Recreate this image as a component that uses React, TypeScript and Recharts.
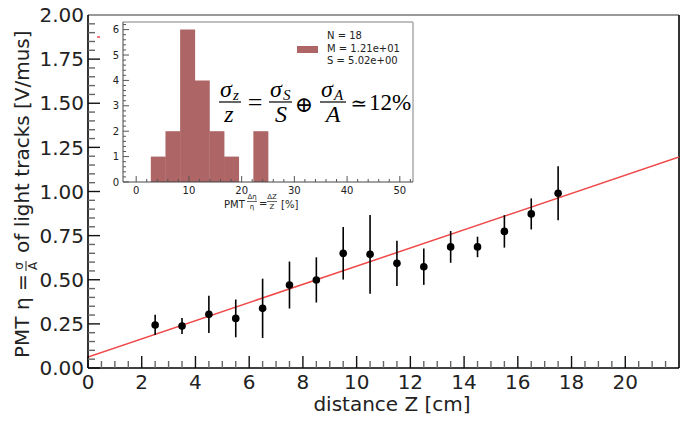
import React from 'react';
import {
  ComposedChart,
  Scatter,
  Line,
  Bar,
  XAxis,
  YAxis,
  ErrorBar,
  ReferenceLine,
} from 'recharts';

// main plot: eta resolution vs distance
const zValues = [2.5, 3.5, 4.5, 5.5, 6.5, 7.5, 8.5, 9.5, 10.5, 11.5, 12.5, 13.5, 14.5, 15.5, 16.5, 17.5];
const etaValues = [0.244, 0.238, 0.304, 0.281, 0.338, 0.47, 0.499, 0.65, 0.644, 0.593, 0.574, 0.686, 0.686, 0.774, 0.873, 0.99];
const etaErrors = [0.057, 0.045, 0.105, 0.107, 0.168, 0.133, 0.128, 0.149, 0.223, 0.128, 0.103, 0.09, 0.058, 0.092, 0.088, 0.153];

// linear fit, evaluated at the axis ends
const fitZ = [0, 22];
const fitEta = [0.062, 1.195];

// inset histogram, 18 bins over [0, 50]
const histRange = [0, 50];
const histCounts = [0, 1, 2, 6, 4, 2, 1, 0, 2, 0, 0, 0, 0, 0, 0, 0, 0, 0];
const legendLines = ['N = 18', 'M = 1.21e+01', 'S = 5.02e+00'];

const xMajorTicks = [0, 2, 4, 6, 8, 10, 12, 14, 16, 18, 20];
const yMajorTicks = [0, 0.25, 0.5, 0.75, 1.0, 1.25, 1.5, 1.75, 2.0];
const insetXMajorTicks = [0, 10, 20, 30, 40, 50];
const insetYMajorTicks = [0, 1, 2, 3, 4, 5, 6];

const points = zValues.map((z, i) => ({ z, eta: etaValues[i], err: etaErrors[i] }));
const fitData = fitZ.map((z, i) => ({ z, eta: fitEta[i] }));
const binWidth = (histRange[1] - histRange[0]) / histCounts.length;
const histData = histCounts.map((count, i) => ({ center: histRange[0] + (i + 0.5) * binWidth, count }));

const steps = (from: number, to: number, step: number) => {
  const out: number[] = [];
  for (let i = 0; from + i * step <= to + 1e-9; i++) out.push(Math.round((from + i * step) * 1000) / 1000);
  return out;
};
const isIn = (v: number, list: number[]) => list.some((t) => Math.abs(t - v) < 1e-6);

const FONT = 'DejaVu Sans, sans-serif';
const MATH = 'Liberation Serif, DejaVu Serif, serif';
const BAR_COLOR = '#ad6565';

const MAIN = { left: 88, right: 679, top: 15, bottom: 368 };
const INSET = { x: 100, y: 10, w: 320, h: 205, left: 123, right: 413, top: 22, bottom: 182 };

const MainXTick = (props: any) => {
  const { x, payload } = props;
  const major = isIn(payload.value, xMajorTicks);
  return (
    <g>
      <line x1={x} x2={x} y1={MAIN.bottom} y2={MAIN.bottom - (major ? 12 : 7)} stroke={major ? '#111' : '#666'} strokeWidth={1.4} />
      {major && (
        <text x={x} y={MAIN.bottom + 21} textAnchor="middle" fontSize={20} fontFamily={FONT} fill="#222">
          {payload.value}
        </text>
      )}
    </g>
  );
};

const MainYTick = (props: any) => {
  const { y, payload } = props;
  const major = isIn(payload.value, yMajorTicks);
  const edge = payload.value >= 2;
  return (
    <g>
      {!edge && (
        <line x1={MAIN.left} x2={MAIN.left + (major ? 12 : 7)} y1={y} y2={y} stroke={major ? '#111' : '#666'} strokeWidth={1.4} />
      )}
      {major && (
        <text x={MAIN.left - 4} y={y} dy="0.36em" textAnchor="end" fontSize={20} fontFamily={FONT} fill="#222">
          {payload.value.toFixed(2)}
        </text>
      )}
    </g>
  );
};

const InsetXTick = (props: any) => {
  const { x, payload } = props;
  const major = isIn(payload.value, insetXMajorTicks);
  const ay = INSET.bottom - INSET.y;
  return (
    <g>
      <line x1={x} x2={x} y1={ay} y2={ay - (major ? 6 : 3)} stroke="#555" strokeWidth={1} />
      {major && (
        <text x={x} y={ay + 12} textAnchor="middle" fontSize={10} fontFamily={FONT} fill="#222">
          {payload.value}
        </text>
      )}
    </g>
  );
};

const InsetYTick = (props: any) => {
  const { y, payload } = props;
  const major = isIn(payload.value, insetYMajorTicks);
  const ax = INSET.left - INSET.x;
  return (
    <g>
      <line x1={ax} x2={ax + (major ? 6 : 3)} y1={y} y2={y} stroke="#555" strokeWidth={1} />
      {major && (
        <text x={ax - 4} y={y} dy="0.36em" textAnchor="end" fontSize={10} fontFamily={FONT} fill="#222">
          {payload.value}
        </text>
      )}
    </g>
  );
};

function Overlay() {
  return (
    <svg width={685} height={422} style={{ position: 'absolute', left: 0, top: 0, pointerEvents: 'none' }}>
      {/* y label, rotated */}
      <g transform="translate(29, 0) rotate(-90)" fontFamily={FONT} fill="#222">
        <text x={-358} y={0} fontSize={20}>PMT η =</text>
        <text x={-266} y={-6} fontSize={12} textAnchor="middle">σ</text>
        <line x1={-271} x2={-261} y1={-3} y2={-3} stroke="#222" strokeWidth={1} />
        <text x={-266} y={8} fontSize={12} textAnchor="middle">A</text>
        <text x={-253} y={0} fontSize={20}>of light tracks [V/mus]</text>
      </g>
      <text x={392} y={411} textAnchor="middle" fontSize={20} fontFamily={FONT} fill="#222">
        distance Z [cm]
      </text>

      {/* empty fit legend entry */}
      <line x1={97} x2={100} y1={37} y2={37} stroke="#f04848" strokeWidth={1.5} />

      {/* inset legend */}
      <rect x={297} y={46} width={21} height={7} fill={BAR_COLOR} />
      {legendLines.map((t, i) => (
        <text key={t} x={327} y={39 + i * 12.5} fontSize={10} fontFamily={FONT} fill="#222">
          {t}
        </text>
      ))}

      {/* inset x label */}
      <g fontFamily={FONT} fill="#222">
        <text x={224} y={208} fontSize={10}>PMT</text>
        <text x={252} y={199} fontSize={7} textAnchor="middle">Δη</text>
        <line x1={247} x2={257} y1={201.5} y2={201.5} stroke="#222" strokeWidth={0.7} />
        <text x={252} y={209} fontSize={7} textAnchor="middle">η</text>
        <text x={259} y={207} fontSize={10}>=</text>
        <text x={272} y={199} fontSize={7} textAnchor="middle">ΔZ</text>
        <line x1={267} x2={277} y1={201.5} y2={201.5} stroke="#222" strokeWidth={0.7} />
        <text x={272} y={209} fontSize={7} textAnchor="middle">Z</text>
        <text x={281} y={208} fontSize={10}>[%]</text>
      </g>

      {/* resolution formula */}
      <g fontFamily={MATH} fill="#000">
        <text x={220} y={97} fontSize={24} fontStyle="italic">σ</text>
        <text x={233} y={100} fontSize={15} fontStyle="italic">z</text>
        <line x1={219} x2={241} y1={102} y2={102} stroke="#000" strokeWidth={1.2} />
        <text x={229} y={122} fontSize={24} fontStyle="italic" textAnchor="middle">z</text>

        <text x={255} y={111} fontSize={26} textAnchor="middle">=</text>

        <text x={270} y={97} fontSize={24} fontStyle="italic">σ</text>
        <text x={283} y={100} fontSize={15} fontStyle="italic">S</text>
        <line x1={269} x2={292} y1={102} y2={102} stroke="#000" strokeWidth={1.2} />
        <text x={281} y={122} fontSize={24} fontStyle="italic" textAnchor="middle">S</text>

        <text x={304} y={112} fontSize={22} textAnchor="middle">⊕</text>

        <text x={321} y={97} fontSize={24} fontStyle="italic">σ</text>
        <text x={334} y={100} fontSize={15} fontStyle="italic">A</text>
        <line x1={320} x2={346} y1={102} y2={102} stroke="#000" strokeWidth={1.2} />
        <text x={333} y={122} fontSize={24} fontStyle="italic" textAnchor="middle">A</text>

        <text x={359} y={110} fontSize={20} textAnchor="middle">≃</text>
        <text x={369} y={110} fontSize={23}>12%</text>
      </g>
    </svg>
  );
}

export default function App() {
  return (
    <div style={{ position: 'absolute', left: 0, top: 0, width: 685, height: 422, background: '#fff' }}>
      <ComposedChart width={685} height={422} margin={{ top: 15, right: 6, bottom: 0, left: 0 }}>
        <XAxis
          dataKey="z"
          type="number"
          domain={[0, 22]}
          allowDataOverflow
          ticks={steps(0, 21.5, 0.5)}
          interval={0}
          tick={MainXTick}
          tickLine={false}
          axisLine={{ stroke: '#000', strokeWidth: 1.6 }}
          height={54}
        />
        <YAxis
          dataKey="eta"
          type="number"
          domain={[0, 2]}
          allowDataOverflow
          ticks={steps(0, 2, 0.05)}
          interval={0}
          tick={MainYTick}
          tickLine={false}
          axisLine={{ stroke: '#000', strokeWidth: 1.6 }}
          width={88}
        />
        <ReferenceLine y={2} stroke="#999" strokeWidth={2} />
        <ReferenceLine x={22} stroke="#333" strokeWidth={2} />
        <Line
          data={fitData}
          dataKey="eta"
          type="linear"
          stroke="#f04848"
          strokeWidth={1.5}
          dot={false}
          isAnimationActive={false}
        />
        <Scatter
          data={points}
          dataKey="eta"
          fill="#000"
          isAnimationActive={false}
          shape={(p: any) => <circle cx={p.cx} cy={p.cy} r={3.8} fill="#000" />}
        >
          <ErrorBar dataKey="err" direction="y" width={0} stroke="#000" strokeWidth={1.6} isAnimationActive={false} />
        </Scatter>
      </ComposedChart>

      <ComposedChart
        width={INSET.w}
        height={INSET.h}
        data={histData}
        barCategoryGap={0}
        barGap={0}
        margin={{ top: INSET.top - INSET.y, right: INSET.x + INSET.w - INSET.right, bottom: 0, left: 0 }}
        style={{ position: 'absolute', left: INSET.x, top: INSET.y }}
      >
        <XAxis
          dataKey="center"
          type="number"
          domain={[-2.5, 52.5]}
          allowDataOverflow
          ticks={steps(0, 52, 2)}
          interval={0}
          tick={InsetXTick}
          tickLine={false}
          axisLine={{ stroke: '#444' }}
          height={INSET.y + INSET.h - INSET.bottom}
        />
        <YAxis
          type="number"
          domain={[0, 6.3]}
          allowDataOverflow
          ticks={steps(0, 6.2, 0.2)}
          interval={0}
          tick={InsetYTick}
          tickLine={false}
          axisLine={{ stroke: '#444' }}
          width={INSET.left - INSET.x}
        />
        <Bar dataKey="count" fill={BAR_COLOR} isAnimationActive={false} />
        <ReferenceLine y={6.3} stroke="#aaa" strokeWidth={1.5} />
        <ReferenceLine x={52.5} stroke="#aaa" strokeWidth={1.5} />
      </ComposedChart>

      <Overlay />
    </div>
  );
}
